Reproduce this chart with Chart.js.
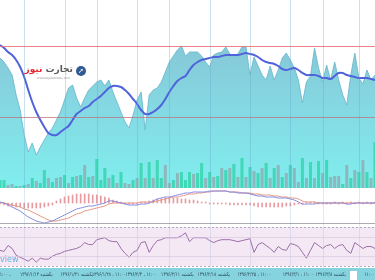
<!DOCTYPE html>
<html><head><meta charset="utf-8">
<script src="https://cdn.jsdelivr.net/npm/chart.js@4.4.0/dist/chart.umd.min.js"></script>
<style>
html,body{margin:0;padding:0;background:#fff;width:375px;height:280px;overflow:hidden}
.c{position:absolute;left:0;width:375px}
#logo{position:absolute;left:26px;top:63px;width:60px;height:22px;font-family:"DejaVu Sans",sans-serif}
#logoTxt{position:absolute;right:13px;top:1px;font-size:9px;font-weight:bold;direction:rtl;white-space:nowrap;letter-spacing:-0.3px}
#logoUrl{position:absolute;left:11px;top:13px;font-size:3px;color:#999;white-space:nowrap}
#icon{position:absolute;right:0;top:3px;width:10px;height:10px;border-radius:50%;background:#2f5a94;color:#fff;font-size:7px;line-height:10px;text-align:center;font-weight:bold}
#tv{position:absolute;left:0;top:255px;font-family:"DejaVu Sans",sans-serif;font-size:8px;color:#67aee6}
#nowbox{position:absolute;left:350px;top:271px;width:7px;height:9px;background:#fff}
</style></head><body>
<div class="c" style="top:0;height:188px"><canvas id="main"></canvas></div>
<div class="c" style="top:188px;height:37px"><canvas id="macd"></canvas></div>
<div class="c" style="top:225px;height:55px"><canvas id="rsi"></canvas></div>
<div id="logo"><div id="logoTxt"><span style="color:#5a5a5a">تجارت</span> <span style="color:#e2262b">نیوز</span></div><div id="icon">➚</div><div id="logoUrl">www.tejaratnews.com</div></div>
<div id="tv">view</div>
<div id="nowbox"></div>
<script>
// ---------- DATA ----------
const N = 94;
const categories = Array.from({length: N}, (_, i) => i);
const price = [130,126,120,113,93,78,53,36,45,33, 41,48,55,60,68,76,88,100,103,90,
  81,90,98,102,106,108,102,108,96,86, 76,66,60,73,88,96,58,93,98,100,
  106,116,126,132,138,142,132,136,136,136, 132,126,121,133,135,136,141,134,132,134,
  141,141,113,131,122,113,108,122,108,118, 130,135,128,120,108,85,106,112,140,120,
  106,123,108,126,108,93,83,113,135,110, 104,118,108,113];
const movingAvg = [143,140,136,133,128,121,111,98,86,76, 68,61,55,53,53,56,59,62,68,74,
  77,80,82,86,89,92,96,100,102,102, 101,98,94,89,84,78,74,74,76,79,
  83,89,96,102,107,110,112,118,123,126, 128,129,130,131,131,132,133,133,133,133,
  134,135,134,133,131,128,126,125,124,122, 119,118,119,120,118,115,113,113,113,112,
  110,110,109,112,115,115,113,112,111,110, 110,110,109,108];
const volume = [8,8,3,4,2,2,3,4,10,7, 5,18,10,6,10,11,13,5,11,12,
  13,23,11,12,29,8,20,10,13,5, 16,5,4,8,10,25,10,26,10,28,
  10,23,5,8,15,16,8,16,14,15, 25,10,16,11,12,20,18,20,24,11,
  30,11,21,17,15,20,25,10,20,23, 11,15,23,20,6,30,10,26,10,27,
  15,28,11,12,12,4,23,10,18,16, 28,16,10,46];
const volumeUp = [1,1,0,0,1,0,1,0,1,0, 1,1,0,1,0,0,1,0,1,0, 1,0,1,0,1,1,1,0,1,0,
  1,0,0,1,0,1,0,1,0,1, 1,0,0,1,0,1,1,1,0,1, 1,0,1,0,1,0,1,0,1,0,
  1,0,1,0,1,0,1,0,1,0, 1,0,1,0,0,1,0,1,0,1, 0,1,0,0,0,1,0,1,0,1, 0,1,0,1];
const levels = [142, 71];
const macdLine = [1,0,-2,-4,-6,-8,-11,-14,-16,-18, -19,-20,-19,-18,-16,-14,-12,-10,-8,-6,
  -5,-4,-3,-3,-2,-1,0,2,2,1, 0,-1,-2,-2,-2,-1,-1,0,2,4,
  5,6,6,7,8,9,10,10,11,11, 11,11,12,12,12,12,12,11,11,10,
  10,10,9,8,7,7,6,6,6,5, 5,5,4,3,1,-1,-1,-1,-1,0,
  0,0,0,0,0,0,-1,-1,0,0, 0,0,0,0];
const signalLine = [0,0,-1,-2,-3,-4,-6,-7,-9,-11, -13,-15,-17,-18,-18,-17,-16,-15,-13,-11,
  -10,-8,-7,-6,-5,-4,-3,-1,0,0, 0,0,0,0,0,1,1,1,1,2,
  3,4,5,6,6,7,8,9,9,10, 10,11,11,12,12,12,12,11,11,11,
  10,10,10,9,9,8,8,8,7,7, 6,6,5,5,4,2,1,1,1,0,
  0,0,0,0,0,0,0,0,0,0, 0,0,0,0];
const histogram = [-1,-2,-3,-3,-4,-4,-5,-5,-5,-5, -5,-4,-3,-2,2,4,6,7,8,9,
  9,9,9,8,8,7,6,5,3,2, 1,-1,-1,-1,-1,1,1,2,3,4,
  4,5,5,5,5,4,4,3,3,2, 1,1,-1,-1,-1,-1,-1,-2,-2,-2,
  -2,-2,-2,-3,-4,-4,-4,-4,-4,-4, -4,-3,-3,-2,-1,-1,1,1,1,-1,
  -1,-1,-1,1,-1,1,-1,1,-1,1, -1,1,-1,1];
const rsi = [46,45,51,48,41,39,37,35,38,34, 38,37,37,40,42,43,45,46,47,48,
  50,54,52,52,57,58,59,56,55,55, 48,43,39,44,46,54,55,44,51,56,
  57,59,59,59,59,61,64,55,59,59, 59,59,56,54,56,57,57,57,56,55,
  56,57,58,44,52,54,51,48,44,50, 47,46,53,52,50,44,38,46,54,51,
  48,51,52,48,51,52,46,43,54,51, 48,50,50,48];
const gridIdx = [6,16,24,34,42,52,62,72,80,89];
const dateIdx = [1,9,19,27,35,44,53,63,74,82,92];
const dateLabels = ["۱۱:۰۰ ،","۱۳۹۶/۱/۱۴ یکشنبه","۱۳۹۶/۱/۲۱ یکشنبه","۱۳۹۶/۱/۲۸ ، ۱۱:۰۰","۱۳۹۶/۲/۴ ، ۱۱:۰۰",
  "۱۳۹۶/۲/۱۱ یکشنبه","۱۳۹۶/۲/۱۸ یکشنبه","۱۳۹۶/۲/۲۵ ، ۱۱:۰۰","۱۳۹۶/۳/۱ ، ۱۱:۰۰","۱۳۹۶/۳/۸ یکشنبه","۱۱:۰۰ ،"];

// ---------- helpers ----------
const TEAL = 'rgba(56,214,176,0.9)', GREY = 'rgba(142,180,186,0.95)';
function overlay(opts){
  return {
    id:'ov'+Math.random(),
    beforeDraw(chart){
      const c=chart.ctx, a=chart.chartArea, y=chart.scales.y;
      c.save();
      if(opts.band){
        const t=y.getPixelForValue(opts.band[1]), b=y.getPixelForValue(opts.band[0]);
        c.fillStyle=opts.bandColor; c.fillRect(0,t,chart.width,b-t);
      }
      if(opts.strip){ c.fillStyle=opts.strip; c.fillRect(0,a.bottom,chart.width,chart.height-a.bottom); }
      c.restore();
    },
    afterDatasetsDraw(chart){
      const c=chart.ctx, a=chart.chartArea, x=chart.scales.x, y=chart.scales.y;
      c.save();
      c.strokeStyle=opts.gridColor; c.lineWidth=1;
      gridIdx.forEach(i=>{const px=Math.round(x.getPixelForValue(i))+0.5; c.beginPath(); c.moveTo(px,a.top); c.lineTo(px,a.bottom); c.stroke();});
      (opts.hlines||[]).forEach(h=>{
        const py=Math.round(y.getPixelForValue(h.v))+0.5;
        c.strokeStyle=h.color; c.setLineDash(h.dash||[]); c.beginPath(); c.moveTo(0,py); c.lineTo(chart.width,py); c.stroke();
      });
      if(opts.bottomLine){ c.setLineDash([]); c.strokeStyle=opts.bottomLine; c.beginPath(); c.moveTo(0,chart.height-1.5); c.lineTo(chart.width,chart.height-1.5); c.stroke(); }
      if(opts.labels){
        c.setLineDash([]);
        c.font='5.5px "DejaVu Sans"'; c.fillStyle='#2c4a5c'; c.textBaseline='middle'; c.textAlign='center';
        const yy=a.bottom+(chart.height-a.bottom)/2+0.5;
        dateIdx.forEach((i,k)=>{
          const px=x.getPixelForValue(i);
          c.save(); c.translate(px,yy); c.scale(0.78,1); c.fillText(dateLabels[k],0,0); c.restore();
        });
      }
      c.restore();
    }
  };
}
const base = {responsive:true, maintainAspectRatio:false, animation:false, events:[],
  plugins:{legend:{display:false}, tooltip:{enabled:false}}};

// ---------- main ----------
new Chart(document.getElementById('main'), {
  type:'line',
  data:{labels:categories, datasets:[
    {type:'line', data:movingAvg, borderColor:'#5063da', borderWidth:2, pointRadius:0, fill:false, tension:0.35, order:0, yAxisID:'y'},
    {type:'bar', data:volume, backgroundColor:volumeUp.map(u=>u?TEAL:GREY), barPercentage:0.75, categoryPercentage:1, order:1, yAxisID:'yv'},
    {type:'line', data:price, borderColor:'rgba(110,185,205,0.9)', borderWidth:1, pointRadius:0, tension:0, fill:'start', order:2, yAxisID:'y',
      backgroundColor:(ctx)=>{const a=ctx.chart.chartArea; if(!a) return 'rgba(125,210,220,1)';
        const g=ctx.chart.ctx.createLinearGradient(0,a.top,0,a.bottom);
        g.addColorStop(0.25,'rgb(134,200,216)'); g.addColorStop(0.6,'rgb(132,218,228)'); g.addColorStop(1,'rgb(128,238,238)'); return g;}}
  ]},
  options:{...base, layout:{padding:0}, scales:{x:{display:false, offset:false}, y:{display:false,min:0,max:188}, yv:{display:false,min:0,max:188}}},
  plugins:[overlay({gridColor:'rgba(100,165,205,0.35)', hlines:[{v:levels[0],color:'rgba(232,110,115,0.85)'},{v:levels[1],color:'rgba(110,130,150,0.55)'},{v:levels[1],color:'rgba(232,110,115,0.5)'}]})]
});

// ---------- MACD ----------
new Chart(document.getElementById('macd'), {
  type:'line',
  data:{labels:categories, datasets:[
    {type:'line', data:macdLine, borderColor:'#8088e2', borderWidth:1, pointRadius:0, tension:0.3, order:0},
    {type:'line', data:signalLine, borderColor:'#e8937f', borderWidth:1, pointRadius:0, tension:0.3, order:1},
    {type:'bar', data:histogram, backgroundColor:'rgba(226,120,125,0.75)', barThickness:1, order:2}
  ]},
  options:{...base, layout:{padding:0}, scales:{x:{display:false, offset:false}, y:{display:false,min:-22,max:15}}},
  plugins:[overlay({gridColor:'rgba(120,170,205,0.25)', bottomLine:'rgba(150,150,160,0.8)'})]
});

// ---------- RSI + date strip ----------
new Chart(document.getElementById('rsi'), {
  type:'line',
  data:{labels:categories, datasets:[
    {data:rsi, borderColor:'#9b6fa8', borderWidth:1, pointRadius:0, tension:0}
  ]},
  options:{...base, layout:{padding:{left:0,right:0,top:0,bottom:12}}, scales:{
    x:{display:false, offset:false},
    y:{display:false, min:27.95, max:72.05}}},
  plugins:[overlay({band:[30,70], bandColor:'#f5e8f5', strip:'#84d3de', gridColor:'rgba(150,170,205,0.25)', labels:true,
    hlines:[{v:70,color:'rgba(160,150,175,0.8)',dash:[2,2]},{v:30,color:'rgba(160,150,175,0.8)',dash:[2,2]},{v:60,color:'rgba(215,195,220,0.6)'},{v:40,color:'rgba(215,195,220,0.6)'}]})]
});
</script>
</body></html>
